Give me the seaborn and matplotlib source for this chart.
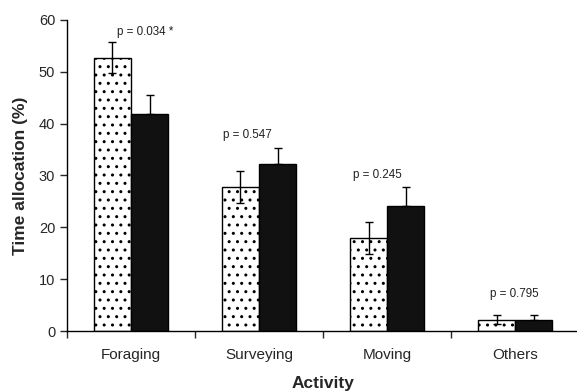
import pandas as pd
import matplotlib.pyplot as plt
import seaborn as sns

# Data
activities = ['Foraging', 'Surveying', 'Moving', 'Others']
groups = ['Group 1', 'Group 2']
means_g1 = [52.7, 27.7, 18.0, 2.2]
means_g2 = [41.8, 32.3, 24.2, 2.2]
err_g1 = [3.0, 3.1, 3.1, 0.9]
err_g2 = [3.7, 3.0, 3.6, 0.9]
p_labels = ['p = 0.034 *', 'p = 0.547', 'p = 0.245', 'p = 0.795']
p_label_x = [-0.11, 0.72, 1.73, 2.80]
p_label_y = [57.6, 37.8, 30.0, 7.2]

df = pd.DataFrame({
    'Activity': activities * 2,
    'Group': [groups[0]] * 4 + [groups[1]] * 4,
    'Time': means_g1 + means_g2,
})

sns.set_style('ticks')
plt.rcParams['font.family'] = ['Liberation Sans', 'DejaVu Sans']
plt.rcParams['hatch.linewidth'] = 1.0

fig = plt.figure(figsize=(5.77, 3.92), dpi=100)
ax = fig.add_axes([0.116, 0.1556, 0.888, 0.7934])

sns.barplot(data=df, x='Activity', y='Time', hue='Group', order=activities,
            hue_order=groups, palette={groups[0]: 'white', groups[1]: '#111111'},
            width=0.58, edgecolor='black', linewidth=1, errorbar=None,
            legend=False, ax=ax)

# dotted fill for the first group
for bar in ax.containers[0]:
    bar.set_hatch('..')
    bar.set_facecolor('white')
    bar.set_edgecolor('black')

# error bars at the centres of the drawn bars (black bars hide the lower half)
for cont, errs, lower in zip(ax.containers[:2], [err_g1, err_g2], [True, False]):
    xs = [b.get_x() + b.get_width() / 2 for b in cont]
    hs = [b.get_height() for b in cont]
    yerr = [errs if lower else [0] * len(errs), errs]
    ax.errorbar(xs, hs, yerr=yerr, fmt='none', ecolor='black',
                elinewidth=1, capsize=3, capthick=1, zorder=5)

for lab, x, y in zip(p_labels, p_label_x, p_label_y):
    ax.text(x, y, lab, fontsize=8.4, ha='left', va='center', color='#222222')

ax.set_ylim(0, 60)
ax.set_xlim(-0.5, 3.5)
ax.set_yticks(range(0, 61, 10))
ax.tick_params(axis='y', labelsize=10.5, length=5, width=1, direction='out')
ax.tick_params(axis='x', which='major', length=0, labelsize=11, pad=12)
ax.set_xticks([-0.5, 0.5, 1.5, 2.5, 3.5], minor=True)
ax.tick_params(axis='x', which='minor', length=5, width=1, direction='out')

ax.set_xlabel('Activity', fontsize=12.5, fontweight='bold', labelpad=10)
ax.set_ylabel('Time allocation (%)', fontsize=12.5, fontweight='bold', labelpad=8)

sns.despine(ax=ax)
for s in ['left', 'bottom']:
    ax.spines[s].set_linewidth(1)
    ax.spines[s].set_color('black')

fig.savefig('out.png', dpi=100)
